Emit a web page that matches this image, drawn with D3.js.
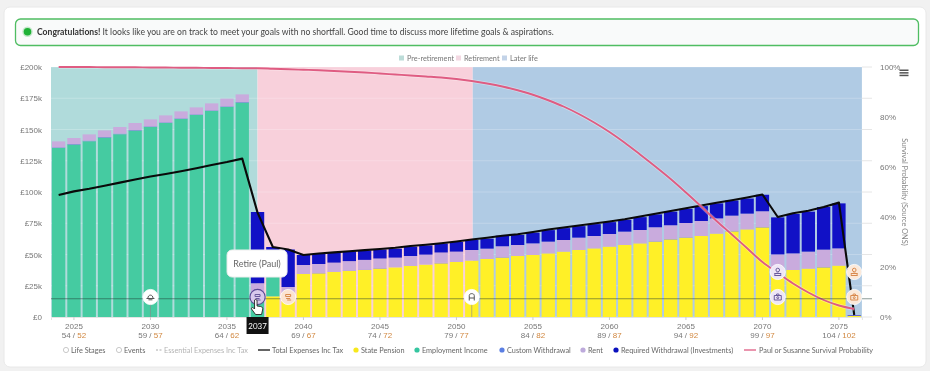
<!DOCTYPE html>
<html>
<head>
<meta charset="utf-8">
<script src="https://cdn.jsdelivr.net/npm/d3@7"></script>
<style>
	html,body{margin:0;padding:0;background:#f1f1f1;overflow:hidden;}
	svg{display:block;font-family:Lato,sans-serif;filter:blur(.35px);}
</style>
</head>
<body>
<svg id="chart" width="930" height="371"></svg>
<script>
// values in thousands of pounds, one per year from 2024 to 2076
var years = d3.range(2024,2077);
var statePension = [0,0,0,0,0,0,0,0,0,0,0,0,0,0,16.5,14,34.4,
	34.9,36,36.8,37.6,38.7,39.7,40.8,41.9,42.9,44,45.1,46.4,47.5,48.8,49.6,50.9,52.3,53.6,54.9,56.3,
	57.6,58.9,60.3,62.1,63.5,64.8,66.7,68.5,70.1,71.7,37,37.6,38.7,39.7,41.1,0.8];
var employment = [135.2,137.9,140.6,143.5,146.2,149.1,152,155.2,158.4,161.6,164.8,168,171.5,13,36,0,0,
	0,0,0,0,0,0,0,0,0,0,0,0,0,0,0,0,0,0,0,0,0,0,0,0,0,0,0,0,0,0,0,0,0,0,0,0];
var customWithdrawal = [0.5,0.5,0.5,0.5,0.5,0.5,0.5,0.5,0.5,0.5,0.5,0.5,0.5,0,0,0,0,
	0.3,0.3,0.4,0.4,0.4,0,0,0,0.4,0,0,0,0.3,0,0,0,0,0,0,0,0,0,0.3,0.3,0.3,0,0,0.3,0,0.3,0,0,0,0.3,0,0];
var rent = [4.8,4.8,5,5.3,5.3,5.6,5.6,5.6,5.6,5.6,5.6,6.2,6.1,14,0,10,7.2,
	7.2,7.2,7.5,7.7,7.7,7.8,8,8,8.3,8.3,8.5,8.3,8.8,8.8,9.3,9.4,9.3,9.9,9.9,10.1,
	10.7,10.7,11.2,11,11.4,12,12.2,12.3,12.6,12.6,13.1,13.3,13.6,13.9,13.8,0.4];
var requiredWithdrawal = [0,0,0,0,0,0,0,0,0,0,0,0,0,57,3.5,30,8,
	8,7.7,7.7,7.5,7.2,7.2,7.5,7.4,7.2,7.7,8,8,8.5,8,8.6,9.2,9.5,9.2,9.5,9.5,
	9.4,10.3,10.3,10.9,11.3,11.9,12,12.1,12.1,13.2,29.6,31.5,32,34.1,36,0.4];
var totalExpenses = [97.6,100.5,102.6,105,107.5,110,112.4,114.4,116.6,119,121.6,124,126.7,83.5,56,54,49.6,
	50.8,51.7,52.6,53.5,54.4,55.4,56.8,57.8,59,60.4,62,63.4,65,66.2,68,70,71.6,73.2,74.8,76.4,
	78.2,80.4,82.6,84.8,87,89.2,91.4,93.4,95.6,98,80,83,85,88,91.5,1.6];
// probability in percent
var survival = [100,100,100,99.9,99.9,99.9,99.8,99.8,99.7,99.7,99.6,99.6,99.5,99.5,99.3,99.1,98.9,
	98.7,98.4,98.1,97.8,97.4,97,96.6,96.2,95.8,95.2,94.4,93.4,92.2,90.7,88.9,86.7,84.2,81.2,77.8,74,
	69.7,65,60.2,55.2,49.8,44.2,38.4,33,27.5,22,17.6,13.4,9.8,6.8,4.6,3.2];

var tickYears = [2025,2030,2035,2040,2045,2050,2055,2060,2065,2070,2075];
var agesPaul = [54,59,64,69,74,79,84,89,94,99,104];
var agesSusanne = [52,57,62,67,72,77,82,87,92,97,102];
var moneyTicks = [0,25,50,75,100,125,150,175,200];
var percentTicks = [0,20,40,60,80,100];

var stageNames = ['Pre-retirement','Retirement','Later life'];
var stageChange = [2037,2051];

var eventYears = [2030,2037,2039,2051,2071,2071,2076,2076];
var eventLevels = [16,16,16,16,16,36,16,36];
var eventKinds = ['hat','retire','retireB','chair','cam','person','camB','personB'];
var eventLine = 14.6;

var legendNames = ['Life Stages','Events','Essential Expenses Inc Tax','Total Expenses Inc Tax','State Pension','Employment Income','Custom Withdrawal','Rent','Required Withdrawal (Investments)','Paul or Susanne Survival Probability'];

// layout and colours
var margin = {left:51,right:68,top:67,bottom:54};
var width = 930, height = 371;
var innerwidth = width-margin.left-margin.right;
var innerheight = height-margin.top-margin.bottom;
var stepWidth = 15.3;
var legendX = [62,115,156,258,352,413,498,579,612,744];
var legendSwatch = ['ring','ring','dash','line','#f7e81c','#35c6a0','#5b7fe3','#bdaadb','#0a10bd','pink'];
var stageColors = ['#b0dbdb','#f8d0db','#b0cbe4'];
var stageLegendColors = ['#bcdcd8','#f3d8e2','#c3d3e8'];
var seriesColors = {statePension:'#fff027',employment:'#45cba1',customWithdrawal:'#7c7fd6',rent:'#c9abdd',requiredWithdrawal:'#1111c6'};
var markerFill = {hat:'#fff',retire:'#d9c8ec',retireB:'#fbe3d2',chair:'#fff',cam:'#efe6f6',person:'#efe6f6',camB:'#fbe9da',personB:'#fbe9da'};
var markerInk = {hat:'#555',retire:'#6a5a9c',retireB:'#d98a4e',chair:'#555',cam:'#6a5a9c',person:'#6a5a9c',camB:'#d98a4e',personB:'#d98a4e'};

var svg = d3.select('#chart');

// page card and message box
svg.append('rect').attr('x',4).attr('y',7).attr('width',922).attr('height',360).attr('rx',6).attr('fill','#fff').attr('stroke','#e8e8e8');
svg.append('rect').attr('x',15.5).attr('y',19).attr('width',903).attr('height',26.5).attr('rx',5).attr('fill','#f9fafa').attr('stroke','#4fbd62').attr('stroke-width',1.3);
svg.append('circle').attr('cx',27.5).attr('cy',31.7).attr('r',5.2).attr('fill','#c5e8cb');
svg.append('circle').attr('cx',27.5).attr('cy',31.7).attr('r',3.8).attr('fill','#1fb136');
var msg = svg.append('text').attr('x',37).attr('y',34.6).attr('font-size',8.6).attr('fill','#444');
msg.append('tspan').attr('font-weight','bold').attr('fill','#333').text('Congratulations!');
msg.append('tspan').text(' It looks like you are on track to meet your goals with no shortfall. Good time to discuss more lifetime goals & aspirations.');

var g = svg.append('g').attr('transform',`translate(${margin.left},${margin.top})`);

var plotwidth = stepWidth*years.length;
var xscale = d3.scaleBand().domain(years).range([0,plotwidth]).paddingInner(.13).paddingOuter(.065);
var yscale = d3.scaleLinear().domain([0,200]).range([innerheight,0]);
var pscale = d3.scaleLinear().domain([0,100]).range([innerheight,0]);
var xmid = d => xscale(d)+xscale.bandwidth()/2;

// life stage bands change over in the middle of a year's bar
var stageEdges = [0,xmid(stageChange[0]),xmid(stageChange[1])+1,plotwidth];
g.append('g').selectAll('rect').data(stageNames).enter().append('rect')
	.attr('x',(d,i) => stageEdges[i])
	.attr('y',0)
	.attr('width',(d,i) => stageEdges[i+1]-stageEdges[i])
	.attr('height',innerheight)
	.attr('fill',(d,i) => stageColors[i]);

// grid, runs a bit past the plot on the right
g.append('g').selectAll('line').data(moneyTicks).enter().append('line')
	.attr('x1',0).attr('x2',821)
	.attr('y1',d => yscale(d)).attr('y2',d => yscale(d))
	.attr('stroke','#fff').attr('stroke-opacity',.22);
g.append('g').selectAll('line').data(moneyTicks).enter().append('line')
	.attr('x1',811).attr('x2',821)
	.attr('y1',d => yscale(d)).attr('y2',d => yscale(d))
	.attr('stroke','#e6e6e6');

// stacked bars
var rows = years.map((y,i) => ({year:y,statePension:statePension[i],employment:employment[i],customWithdrawal:customWithdrawal[i],rent:rent[i],requiredWithdrawal:requiredWithdrawal[i]}));
var stack = d3.stack().keys(['statePension','employment','customWithdrawal','rent','requiredWithdrawal'])(rows);
g.append('g').selectAll('g').data(stack).enter().append('g')
	.attr('fill',d => seriesColors[d.key])
	.selectAll('rect').data(d => d).enter().append('rect')
	.attr('x',d => xscale(d.data.year))
	.attr('y',d => yscale(d[1]))
	.attr('width',xscale.bandwidth())
	.attr('height',d => yscale(d[0])-yscale(d[1]));

// axes
var xaxis = g.append('g').attr('transform',`translate(0,${innerheight})`)
	.call(d3.axisBottom(xscale).tickValues(tickYears).tickSize(3).tickFormat(''));
xaxis.select('.domain').attr('stroke','#e4e4e4');
xaxis.selectAll('.tick line').attr('stroke','#ccc');
var ticktext = xaxis.selectAll('.tick').select('text').attr('y',0).attr('dy',0).attr('font-size',8).attr('font-family','inherit');
ticktext.each(function(d,i){
	var t = d3.select(this);
	t.append('tspan').attr('x',0).attr('y',12).attr('fill','#777').text(d);
	var l = t.append('tspan').attr('x',0).attr('y',20.5);
	l.append('tspan').attr('fill','#777').text(agesPaul[i]+' / ');
	l.append('tspan').attr('fill','#d1873f').text(agesSusanne[i]);
});

var yaxis = g.append('g').call(d3.axisLeft(yscale).tickValues(moneyTicks).tickSize(0).tickPadding(9)
	.tickFormat(d => d===0 ? '£0' : `£${d}k`));
yaxis.select('.domain').remove();
yaxis.selectAll('text').attr('font-size',8).attr('font-family','inherit').attr('fill','#777');

var paxis = g.append('g').attr('transform','translate(829,0)').call(d3.axisRight(pscale).tickValues(percentTicks).tickSize(0).tickPadding(0)
	.tickFormat(d => d+'%'));
paxis.select('.domain').remove();
paxis.selectAll('text').attr('font-size',8).attr('font-family','inherit').attr('fill','#777');

svg.append('text').attr('transform','translate(901.5,192) rotate(90)').attr('text-anchor','middle')
	.attr('font-size',7.4).attr('fill','#888').text('Survival Probability (Source ONS)');

// hamburger menu
svg.append('g').selectAll('rect').data([0,1,2]).enter().append('rect')
	.attr('x',899.5).attr('y',d => 69.5+d*2.6).attr('width',9).attr('height',1.5).attr('fill','#555');

// lines
var totalLine = d3.line().x((d,i) => xmid(years[i])).y(d => yscale(d));
g.append('path').datum(totalExpenses).attr('d',totalLine).attr('fill','none').attr('stroke','#0a0a0a').attr('stroke-width',2.1).attr('stroke-linejoin','round');

var survivalLine = d3.line().x((d,i) => xmid(years[i])).y(d => pscale(d)).curve(d3.curveMonotoneX);
g.append('path').datum(survival).attr('d',survivalLine).attr('fill','none').attr('stroke','#fff').attr('stroke-opacity',.35).attr('stroke-width',3.4);
g.append('path').datum(survival).attr('d',survivalLine).attr('fill','none').attr('stroke','#df5c82').attr('stroke-width',1.9);

// event line and markers
g.append('line').attr('x1',0).attr('x2',821).attr('y1',yscale(eventLine)).attr('y2',yscale(eventLine)).attr('stroke','#1d3b34').attr('stroke-opacity',.5);
var marks = g.append('g').selectAll('g').data(eventYears).enter().append('g')
	.attr('transform',(d,i) => `translate(${xmid(d)},${yscale(eventLevels[i])})`);
marks.append('line').attr('y1',0).attr('y2',(d,i) => eventKinds[i]==='hat'||eventKinds[i]==='chair' ? yscale(0)-yscale(eventLevels[i]) : 0).attr('stroke','#888').attr('stroke-opacity',.6);
marks.append('circle').attr('r',7.6).attr('fill',(d,i) => markerFill[eventKinds[i]]).attr('stroke','#fff').attr('stroke-opacity',.8);
marks.filter((d,i) => eventKinds[i]==='retire').select('circle').attr('stroke','#5a4a94').attr('stroke-opacity',1).attr('stroke-width',1.1);
var glyphs = {
	hat:'M-4 1.5H4M-2.6 1.5C-2.6 -3 2.6 -3 2.6 1.5M-2 2.8H2',
	retire:'M-2.5 -2.5H2.5V-.5H-2.5ZM-2 1.5H2M-1 3H3',
	retireB:'M-2.5 -2.5H2.5V-.5H-2.5ZM-2 1.5H2M-1 3H3',
	chair:'M-2.5 3.5V-1.5C-2.5 -4 2.5 -4 2.5 -1.5V3.5M-2.5 1H2.5',
	cam:'M-3.5 -1.5H3.5V3H-3.5ZM-1.5 -1.5L-1 -3H1L1.5 -1.5M1 .7A1 1 0 1 1 -1 .7A1 1 0 1 1 1 .7',
	camB:'M-3.5 -1.5H3.5V3H-3.5ZM-1.5 -1.5L-1 -3H1L1.5 -1.5M1 .7A1 1 0 1 1 -1 .7A1 1 0 1 1 1 .7',
	person:'M1.8 -2A1.8 1.8 0 1 1 -1.8 -2A1.8 1.8 0 1 1 1.8 -2M-3.2 3.5C-3.2 .3 3.2 .3 3.2 3.5ZM-3.5 1.5H3.5',
	personB:'M1.8 -2A1.8 1.8 0 1 1 -1.8 -2A1.8 1.8 0 1 1 1.8 -2M-3.2 3.5C-3.2 .3 3.2 .3 3.2 3.5ZM-3.5 1.5H3.5'
};
marks.append('path').attr('d',(d,i) => glyphs[eventKinds[i]]).attr('fill','none').attr('stroke-width',1).attr('stroke',(d,i) => markerInk[eventKinds[i]]);

// tooltip for the hovered year
var hoverYear = 2037, hx = xmid(hoverYear);
g.append('rect').attr('x',hx-30.5).attr('y',183).attr('width',60).attr('height',27).attr('rx',5).attr('fill','#fff').attr('stroke','#eee');
g.append('text').attr('x',hx-0.5).attr('y',200).attr('text-anchor','middle').attr('font-size',9).attr('fill','#666').text('Retire (Paul)');
g.append('rect').attr('x',hx-11).attr('y',innerheight).attr('width',22).attr('height',17).attr('fill','#111');
g.append('text').attr('x',hx).attr('y',innerheight+11.5).attr('text-anchor','middle').attr('font-size',8).attr('fill','#fff').text(hoverYear);
g.append('path').attr('transform',`translate(${hx-6},${innerheight-17})`)
	.attr('d','M3 0C4 -1 5.5 -.5 5.5 1V6L9 6.5C11 7 11.5 8 11 10L10 14.5H4L0 9C-.5 8 .5 7 2 8L3 9Z')
	.attr('fill','#fff').attr('stroke','#222').attr('stroke-width',.9);

// top legend, positions picked by hand
var stageLegendX = [399,456,502];
var stageLegend = svg.append('g').selectAll('g').data(stageNames).enter().append('g')
	.attr('transform',(d,i) => `translate(${stageLegendX[i]},55.5)`);
stageLegend.append('rect').attr('width',5).attr('height',5).attr('fill',(d,i) => stageLegendColors[i]);
stageLegend.append('text').attr('x',8).attr('y',5.3).attr('font-size',7.3).attr('fill','#777').text(d => d);

// bottom legend
var legend = svg.append('g').selectAll('g').data(legendNames).enter().append('g')
	.attr('transform',(d,i) => `translate(${legendX[i]},350)`);
legend.each(function(d,i){
	var l = d3.select(this), s = legendSwatch[i];
	var textx = 9;
	if(s==='ring') l.append('circle').attr('cx',4).attr('r',2.6).attr('fill','#fff').attr('stroke','#bbb').attr('stroke-width',.8);
	else if(s==='dash'){ l.append('line').attr('x1',0).attr('x2',6).attr('stroke','#aaa').attr('stroke-dasharray','2 1.5'); textx = 8; }
	else if(s==='line'){ l.append('line').attr('x1',0).attr('x2',12).attr('stroke','#111').attr('stroke-width',1.3); textx = 14; }
	else if(s==='pink'){ l.append('line').attr('x1',0).attr('x2',12).attr('stroke','#df5c82').attr('stroke-width',1.3); textx = 15; }
	else l.append('circle').attr('cx',4).attr('r',2.6).attr('fill',s);
	l.append('text').attr('x',textx).attr('y',2.7).attr('font-size',7.3).attr('fill',s==='dash' ? '#b4b4b4' : '#666').text(d);
});
</script>
</body>
</html>
